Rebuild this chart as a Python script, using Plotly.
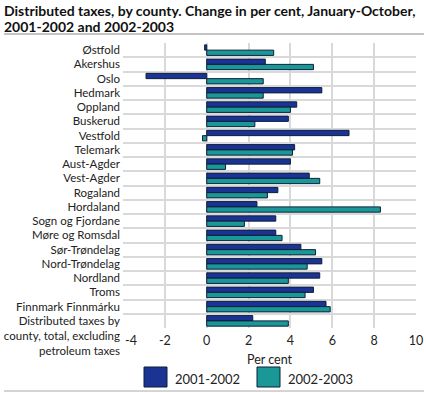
import plotly.graph_objects as go

categories = ["Østfold", "Akershus", "Oslo", "Hedmark", "Oppland", "Buskerud", "Vestfold",
              "Telemark", "Aust-Agder", "Vest-Agder", "Rogaland", "Hordaland",
              "Sogn og Fjordane", "Møre og Romsdal", "Sør-Trøndelag", "Nord-Trøndelag",
              "Nordland", "Troms", "Finnmark Finnmárku",
              " <br> <br>Distributed taxes by<br>county, total, excluding<br>petroleum taxes"]
v_2001_2002 = [-0.1, 2.8, -2.9, 5.5, 4.3, 3.9, 6.8, 4.2, 4.0, 4.9, 3.4, 2.4, 3.3, 3.3, 4.5, 5.5, 5.4, 5.1, 5.7, 2.2]
v_2002_2003 = [3.2, 5.1, 2.7, 2.7, 4.0, 2.3, -0.2, 4.1, 0.9, 5.4, 2.9, 8.3, 1.8, 3.6, 5.2, 4.8, 3.9, 4.7, 5.9, 3.9]
series_names = ["2001-2002", "2002-2003"]
colors = ["#1b3393", "#1a9797"]
x_ticks = [-4, -2, 0, 2, 4, 6, 8, 10]
x_tick_labels = ["\u00a0" * 5 + "-4", "-2", "0", "2", "4", "6", "8", "10"]
title_lines = ["Distributed taxes, by county. Change in per cent, January-October,",
               "2001-2002 and 2002-2003"]

font = "Lato"
L, R, T, B = 123, 10, 43, 65
PW = 426 - L - R
PH = 393 - T - B

def px_x(x):
    return (x - L) / PW

def px_y(y):
    return (393 - B - y) / PH

fig = go.Figure()
for name, vals, c in zip(series_names, [v_2001_2002, v_2002_2003], colors):
    fig.add_trace(go.Bar(y=categories, x=vals, orientation="h", name=name,
                         marker=dict(color=c, line=dict(color="#0d1f3a", width=1)),
                         showlegend=False))

fig.update_layout(
    width=426, height=393,
    margin=dict(l=L, r=R, t=T, b=B, autoexpand=False),
    paper_bgcolor="white", plot_bgcolor="white",
    barmode="group", bargap=0.26, bargroupgap=0,
    font=dict(family=font, size=11.5, color="#222"),
    xaxis=dict(range=[-4, 10], tickvals=x_ticks, ticktext=x_tick_labels, showgrid=True,
               gridcolor="#d9d9d9", gridwidth=1.5,
               zeroline=False, showline=False, ticks="", automargin=False,
               tickfont=dict(size=12.5), ticklabelstandoff=3,
               title=dict(text="Per cent", standoff=8, font=dict(size=12.5))),
    yaxis=dict(autorange="reversed", tickson="boundaries", showgrid=True, gridcolor="#d9d9d9",
               gridwidth=1.5, ticks="", showline=False, automargin=False, ticklabelstandoff=2),
)

for i, line in enumerate(title_lines):
    fig.add_annotation(text="<b>" + line + "</b>", xref="paper", yref="paper", x=px_x(3),
                       y=px_y(10 + 16 * i), xanchor="left", yanchor="middle", align="left",
                       showarrow=False, borderpad=0,
                       font=dict(family=font, size=14, color="#111"))

# title rule and bottom rule
fig.add_shape(type="line", xref="paper", yref="paper", x0=px_x(4), x1=px_x(424), y0=px_y(34), y1=px_y(34),
              line=dict(color="#888", width=1))
fig.add_shape(type="line", xref="paper", yref="paper", x0=px_x(4), x1=px_x(424), y0=px_y(391), y1=px_y(391),
              line=dict(color="#aaa", width=1))

# custom legend
lx = [144, 257]
for i, (name, c) in enumerate(zip(series_names, colors)):
    x0 = lx[i]
    fig.add_shape(type="rect", xref="paper", yref="paper", x0=px_x(x0), x1=px_x(x0 + 23),
                  y0=px_y(387), y1=px_y(367),
                  fillcolor=c, line=dict(color="#0d1f3a", width=1))
    fig.add_annotation(text=name, xref="paper", yref="paper", x=px_x(x0 + 29), y=px_y(379),
                       xanchor="left", yanchor="middle", showarrow=False, font=dict(size=13, family=font))

fig.write_html("out.html", config={"displayModeBar": False},
               post_script="document.body.style.margin='0';")
